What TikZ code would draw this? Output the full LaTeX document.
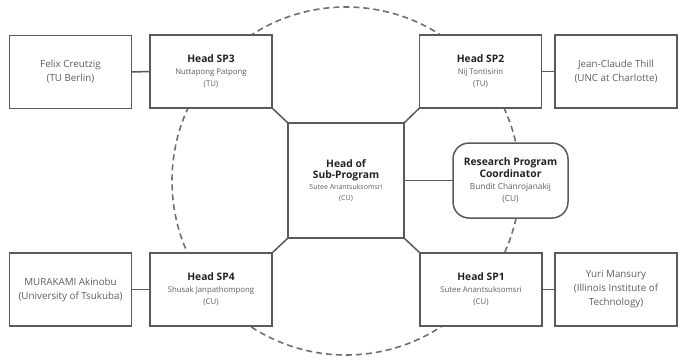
\documentclass[tikz,border=0pt]{standalone}
\usepackage{fontspec}
\setmainfont{Open Sans}
\begin{document}
\begin{tikzpicture}[x=1pt,y=-1pt,
  every node/.style={inner sep=0pt, outer sep=0pt},
  box/.style={draw=linegray, line width=1.5pt, fill=white, minimum width=122pt, minimum height=73pt, align=center, text=nametext, font=\fontsize{9.8}{14}\selectfont},
  headbox/.style={box, font=\fontsize{7.8}{12}\selectfont},
  link/.style={draw=linegray, line width=1.5pt},
  ring/.style={circle, draw=ringgray, dashed, dash pattern=on 6pt off 4pt, line width=1.6pt, minimum size=348pt}
]
\definecolor{linegray}{HTML}{5A5A5A}
\definecolor{ringgray}{HTML}{707070}
\definecolor{nametext}{HTML}{5E5E5E}
\definecolor{titletext}{HTML}{222222}
\newcommand{\ttl}[1]{{\fontsize{10.3}{13}\selectfont\bfseries\color{titletext}#1}}
\useasboundingbox (0,0) rectangle (682,361);
\fill[white] (0,0) rectangle (682,361);

\node[ring] (ring) at (346,181) {};

\node[box] (felix) at (70.5,72) {Felix Creutzig\\(TU Berlin)};
\node[headbox] (sp3) at (211,71.5) {\ttl{Head SP3}\\Nuttapong Patpong\\(TU)};
\node[headbox] (sp2) at (480.5,71.5) {\ttl{Head SP2}\\Nij Tontisirin\\(TU)};
\node[box] (thill) at (616,71.5) {Jean-Claude Thill\\(UNC at Charlotte)};

\node[box] (murakami) at (70.5,289.5) {MURAKAMI Akinobu\\(University of Tsukuba)};
\node[headbox] (sp4) at (211,289.5) {\ttl{Head SP4}\\Shusak Janpathompong\\(CU)};
\node[headbox] (sp1) at (481,289.5) {\ttl{Head SP1}\\Sutee Anantsuksomsri\\(CU)};
\node[box] (yuri) at (616,289.5) {Yuri Mansury\\(Illinois Institute of\\Technology)};

\node[headbox, minimum width=116pt, minimum height=115pt, font=\fontsize{7}{11}\selectfont] (head) at (346,180.5) {\ttl{Head of}\\\ttl{Sub-Program}\\Sutee Anantsuksomsri\\(CU)};
\node[headbox, rounded corners=16pt, minimum width=115pt, minimum height=75pt, font=\fontsize{8.3}{12}\selectfont] (rpc) at (510.5,180.5) {\ttl{Research Program}\\\ttl{Coordinator}\\Bundit Chanrojanakij\\(CU)};

\draw[link] (felix) -- (sp3);
\draw[link] (sp2) -- (thill);
\draw[link] (murakami) -- (sp4);
\draw[link] (sp1) -- (yuri);
\draw[link] (head) -- (rpc);
\draw[link] (head.north west) -- (sp3.south east);
\draw[link] (head.north east) -- (sp2.south west);
\draw[link] (head.south west) -- (sp4.north east);
\draw[link] (head.south east) -- (sp1.north west);
\end{tikzpicture}
\end{document}
